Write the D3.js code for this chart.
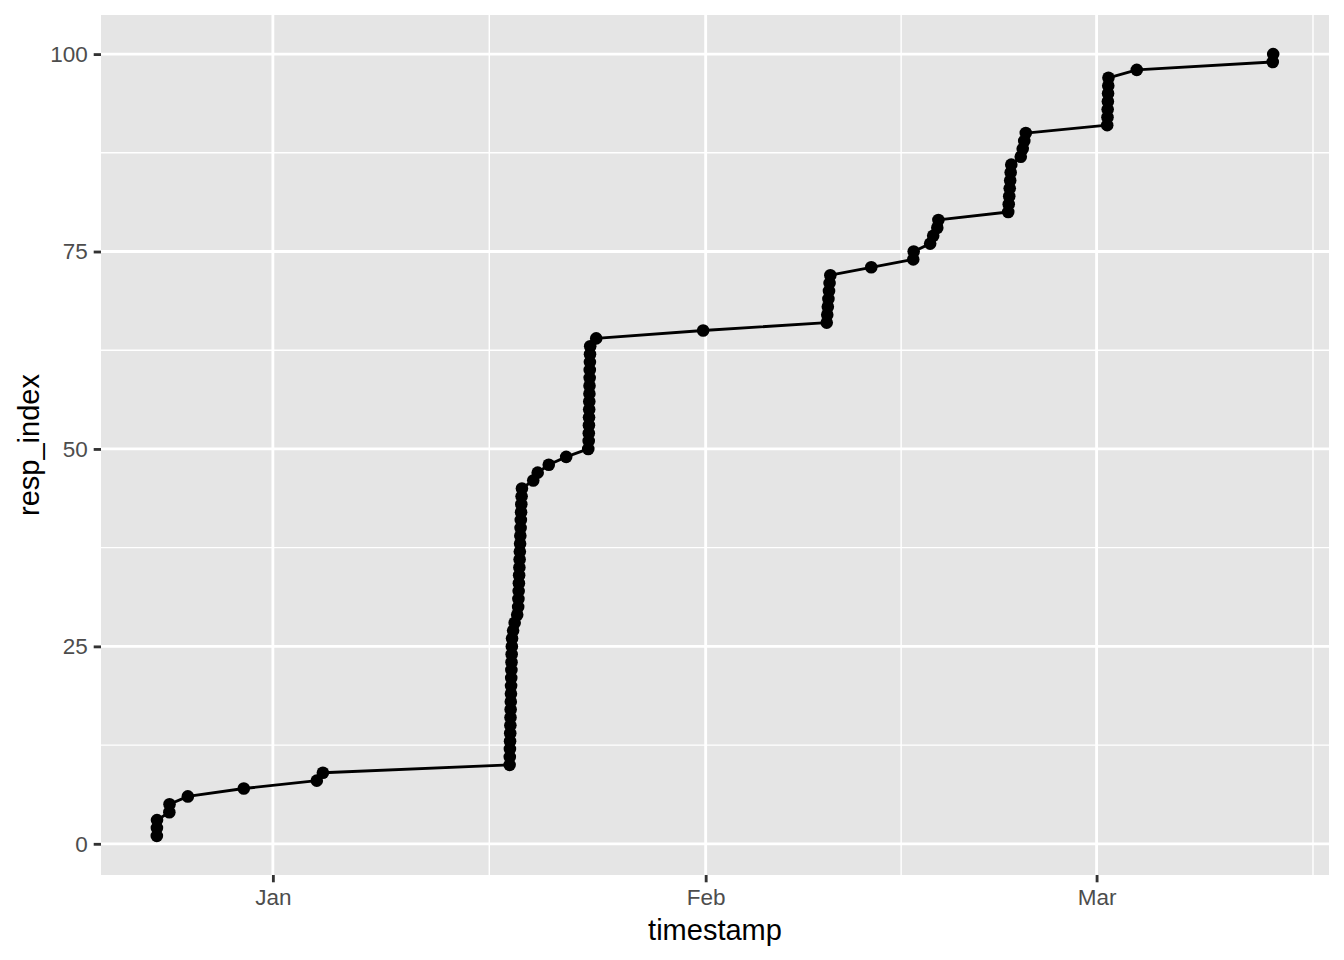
<!DOCTYPE html>
<html>
<head>
<meta charset="utf-8">
<script src="https://cdn.jsdelivr.net/npm/d3@7"></script>
<style>
  html, body { margin: 0; padding: 0; background: #ffffff; }
  svg { display: block; font-family: "Liberation Sans", Arial, sans-serif; }
</style>
</head>
<body>
<svg id="chart" width="1344" height="960"></svg>
<script>
// ---- Data ----
const timestamps = [
  "2020-12-23 16:30", "2020-12-23 16:40", "2020-12-23 16:50",
  "2020-12-24 14:00", "2020-12-24 14:20",
  "2020-12-25 21:50",
  "2020-12-29 22:00",
  "2021-01-04 03:30", "2021-01-04 14:00",
  "2021-01-17 23:00", "2021-01-17 23:15", "2021-01-17 23:30", "2021-01-17 23:45",
  "2021-01-18 00:00", "2021-01-18 00:15", "2021-01-18 00:30", "2021-01-18 00:45",
  "2021-01-18 01:00", "2021-01-18 01:15", "2021-01-18 01:30", "2021-01-18 01:45",
  "2021-01-18 02:00", "2021-01-18 02:15", "2021-01-18 02:30", "2021-01-18 02:50",
  "2021-01-18 03:10", "2021-01-18 05:00", "2021-01-18 07:40",
  "2021-01-18 12:00", "2021-01-18 13:40", "2021-01-18 14:05", "2021-01-18 14:30",
  "2021-01-18 14:55", "2021-01-18 15:20", "2021-01-18 15:45", "2021-01-18 16:10",
  "2021-01-18 16:35", "2021-01-18 17:00", "2021-01-18 17:25", "2021-01-18 17:50",
  "2021-01-18 18:15", "2021-01-18 18:40", "2021-01-18 19:05", "2021-01-18 19:35",
  "2021-01-18 20:10",
  "2021-01-19 15:35", "2021-01-19 23:15", "2021-01-20 18:15", "2021-01-22 00:15",
  "2021-01-23 14:10", "2021-01-23 14:55", "2021-01-23 15:05", "2021-01-23 15:20",
  "2021-01-23 15:30", "2021-01-23 15:45", "2021-01-23 15:55", "2021-01-23 16:10",
  "2021-01-23 16:20", "2021-01-23 16:35", "2021-01-23 16:45", "2021-01-23 17:00",
  "2021-01-23 17:10", "2021-01-23 17:30",
  "2021-01-24 03:50",
  "2021-01-31 19:40",
  "2021-02-09 16:05", "2021-02-09 17:00", "2021-02-09 18:00", "2021-02-09 19:00",
  "2021-02-09 20:00", "2021-02-09 21:00", "2021-02-09 22:20",
  "2021-02-12 20:40",
  "2021-02-15 20:50", "2021-02-15 21:35",
  "2021-02-17 01:55", "2021-02-17 07:10", "2021-02-17 14:10", "2021-02-17 16:05",
  "2021-02-22 16:05", "2021-02-22 17:00", "2021-02-22 17:50", "2021-02-22 18:40",
  "2021-02-22 19:30", "2021-02-22 20:20", "2021-02-22 21:20",
  "2021-02-23 13:40", "2021-02-23 17:00", "2021-02-23 19:40", "2021-02-23 22:20",
  "2021-03-01 18:15", "2021-03-01 18:45", "2021-03-01 19:05", "2021-03-01 19:25",
  "2021-03-01 19:45", "2021-03-01 20:05", "2021-03-01 20:25",
  "2021-03-03 21:05",
  "2021-03-13 14:50", "2021-03-13 15:35"
];
const respIndex = [
  1, 2, 3, 4, 5, 6, 7, 8, 9, 10,
  11, 12, 13, 14, 15, 16, 17, 18, 19, 20,
  21, 22, 23, 24, 25, 26, 27, 28, 29, 30,
  31, 32, 33, 34, 35, 36, 37, 38, 39, 40,
  41, 42, 43, 44, 45, 46, 47, 48, 49, 50,
  51, 52, 53, 54, 55, 56, 57, 58, 59, 60,
  61, 62, 63, 64, 65, 66, 67, 68, 69, 70,
  71, 72, 73, 74, 75, 76, 77, 78, 79, 80,
  81, 82, 83, 84, 85, 86, 87, 88, 89, 90,
  91, 92, 93, 94, 95, 96, 97, 98, 99, 100
];
const yTicks = [0, 25, 50, 75, 100];
const yMinorTicks = [12.5, 37.5, 62.5, 87.5];
const xTickDates = ["2021-01-01 00:00", "2021-02-01 00:00", "2021-03-01 00:00"];
const xTickLabels = ["Jan", "Feb", "Mar"];
const xMinorDates = ["2021-01-16 12:00", "2021-02-15 00:00", "2021-03-16 12:00"];
const xTitle = "timestamp";
const yTitle = "resp_index";

// ---- Layout ----
const W = 1344, H = 960;
const margin = { left: 101, right: 15, top: 15, bottom: 85 };
const pw = W - margin.left - margin.right;
const ph = H - margin.top - margin.bottom;

const parse = d3.utcParse("%Y-%m-%d %H:%M");
const data = timestamps.map((t, i) => ({ t: parse(t), y: respIndex[i] }));

const xExt = d3.extent(data, d => +d.t);
const xPad = (xExt[1] - xExt[0]) * 0.05;
const x = d3.scaleUtc()
  .domain([new Date(xExt[0] - xPad), new Date(xExt[1] + xPad)])
  .range([0, pw]);

const yExt = d3.extent(data, d => d.y);
const yPad = (yExt[1] - yExt[0]) * 0.05;
const y = d3.scaleLinear()
  .domain([yExt[0] - yPad, yExt[1] + yPad])
  .range([ph, 0]);

const svg = d3.select("#chart");
const g = svg.append("g").attr("transform", `translate(${margin.left},${margin.top})`);

// panel background
g.append("rect").attr("width", pw).attr("height", ph).attr("fill", "#E5E5E5");

// minor grid
g.append("g").selectAll("line").data(yMinorTicks).join("line")
  .attr("x1", 0).attr("x2", pw)
  .attr("y1", d => y(d)).attr("y2", d => y(d))
  .attr("stroke", "#ffffff").attr("stroke-width", 1.42);
g.append("g").selectAll("line").data(xMinorDates.map(parse)).join("line")
  .attr("y1", 0).attr("y2", ph)
  .attr("x1", d => x(d)).attr("x2", d => x(d))
  .attr("stroke", "#ffffff").attr("stroke-width", 1.42);

// major grid
g.append("g").selectAll("line").data(yTicks).join("line")
  .attr("x1", 0).attr("x2", pw)
  .attr("y1", d => y(d)).attr("y2", d => y(d))
  .attr("stroke", "#ffffff").attr("stroke-width", 2.84);
g.append("g").selectAll("line").data(xTickDates.map(parse)).join("line")
  .attr("y1", 0).attr("y2", ph)
  .attr("x1", d => x(d)).attr("x2", d => x(d))
  .attr("stroke", "#ffffff").attr("stroke-width", 2.84);

// line
const line = d3.line().x(d => x(d.t)).y(d => y(d.y));
g.append("path").datum(data)
  .attr("d", line)
  .attr("fill", "none")
  .attr("stroke", "#000000")
  .attr("stroke-width", 2.84)
  .attr("stroke-linejoin", "round");

// points
g.append("g").selectAll("circle").data(data).join("circle")
  .attr("cx", d => x(d.t)).attr("cy", d => y(d.y))
  .attr("r", 6.3).attr("fill", "#000000");

// axes
const xAxis = d3.axisBottom(x)
  .tickValues(xTickDates.map(parse))
  .tickFormat((d, i) => xTickLabels[i])
  .tickSize(7.3).tickPadding(7);
const gx = g.append("g").attr("transform", `translate(0,${ph})`).call(xAxis);
gx.select(".domain").remove();
gx.selectAll(".tick line").attr("stroke", "#333333").attr("stroke-width", 2.84);
gx.selectAll(".tick text").attr("fill", "#4D4D4D").attr("font-size", 22.5)
  .attr("font-family", "'Liberation Sans', Arial, sans-serif");

const yAxis = d3.axisLeft(y).tickValues(yTicks).tickFormat(d3.format("d"))
  .tickSize(7.3).tickPadding(6);
const gy = g.append("g").call(yAxis);
gy.select(".domain").remove();
gy.selectAll(".tick line").attr("stroke", "#333333").attr("stroke-width", 2.84);
gy.selectAll(".tick text").attr("fill", "#4D4D4D").attr("font-size", 22.5)
  .attr("font-family", "'Liberation Sans', Arial, sans-serif");

// axis titles
svg.append("text")
  .attr("x", margin.left + pw / 2).attr("y", 940)
  .attr("text-anchor", "middle")
  .attr("font-size", 29).attr("fill", "#000000")
  .text(xTitle);
svg.append("text")
  .attr("transform", `translate(39,${margin.top + ph / 2}) rotate(-90)`)
  .attr("text-anchor", "middle")
  .attr("font-size", 29).attr("fill", "#000000")
  .text(yTitle);
</script>
</body>
</html>
